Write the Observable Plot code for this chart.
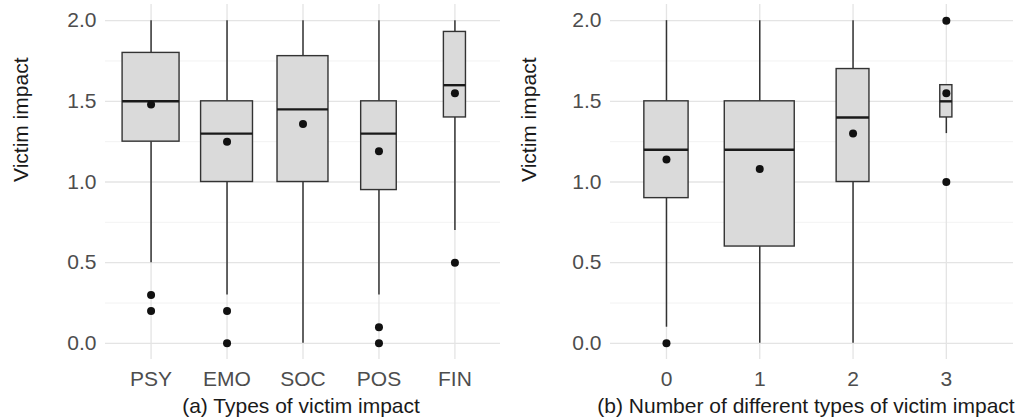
<!DOCTYPE html>
<html><head><meta charset="utf-8">
<script src="https://cdn.jsdelivr.net/npm/d3@7"></script>
<script src="https://cdn.jsdelivr.net/npm/@observablehq/plot@0.6"></script>
<style>
body{margin:0;background:#fff;}
#wrap{display:flex;width:1017px;height:419px;overflow:hidden;}
#wrap svg{overflow:visible;flex:none;}
</style></head><body><div id="wrap"></div>
<script>
// Panel (a): types of victim impact
const categoriesA = ["PSY", "EMO", "SOC", "POS", "FIN"];
const whiskerLowA = [0.5, 0.3, 0.0, 0.3, 0.7];
const q1A = [1.25, 1.0, 1.0, 0.95, 1.4];
const medianA = [1.5, 1.3, 1.45, 1.3, 1.6];
const q3A = [1.8, 1.5, 1.78, 1.5, 1.93];
const whiskerHighA = [2.0, 2.0, 2.0, 2.0, 2.0];
const meanA = [1.48, 1.25, 1.36, 1.19, 1.55];
const countA = [100, 83, 80, 39, 15];
const outlierCatA = ["PSY", "PSY", "EMO", "EMO", "POS", "POS", "FIN"];
const outlierValA = [0.3, 0.2, 0.2, 0.0, 0.1, 0.0, 0.5];
const titleA = "(a) Types of victim impact";

// Panel (b): number of different types of victim impact
const categoriesB = ["0", "1", "2", "3"];
const whiskerLowB = [0.1, 0.0, 0.0, 1.3];
const q1B = [0.9, 0.6, 1.0, 1.4];
const medianB = [1.2, 1.2, 1.4, 1.5];
const q3B = [1.5, 1.5, 1.7, 1.6];
const whiskerHighB = [2.0, 2.0, 2.0, 1.6];
const meanB = [1.14, 1.08, 1.3, 1.55];
const countB = [40, 100, 22, 3];
const outlierCatB = ["0", "3", "3"];
const outlierValB = [0.0, 2.0, 1.0];
const titleB = "(b) Number of different types of victim impact";

const yTicks = [0, 0.5, 1.0, 1.5, 2.0];
const yMinorTicks = [0.25, 0.75, 1.25, 1.75];
const yLabel = "Victim impact";

function panel(o) {
  const {cats, low, q1, med, q3, high, mean, n, outCat, outVal, title,
         width, marginLeft, marginRight, xMax, titleDx} = o;
  const idx = d3.range(cats.length);
  const nMax = d3.max(n);
  const half = i => 0.375 * Math.sqrt(n[i] / nMax);
  const outIdx = d3.range(outCat.length);
  return Plot.plot({
    width, height: 419, marginLeft, marginRight, marginTop: 4, marginBottom: 60,
    style: {fontFamily: "'Liberation Sans', Arial, Helvetica, sans-serif", fontSize: "21px", background: "#fff", color: "#1a1a1a"},
    x: {domain: [-0.6, xMax], axis: null},
    y: {domain: [-0.1, 2.1], axis: null},
    marks: [
      Plot.gridY(yMinorTicks, {stroke: "#efefef", strokeOpacity: 1, strokeWidth: 0.8}),
      Plot.gridY(yTicks, {stroke: "#e4e4e4", strokeOpacity: 1, strokeWidth: 1.3}),
      Plot.gridX(idx, {stroke: "#e4e4e4", strokeOpacity: 1, strokeWidth: 1.3}),
      Plot.axisY(yTicks, {tickFormat: d => d.toFixed(1), tickSize: 0, tickPadding: 9, label: null, fill: "#4d4d4d"}),
      Plot.axisX(idx, {tickFormat: i => cats[i], tickSize: 0, tickPadding: 12, label: null, fill: "#4d4d4d"}),
      Plot.ruleX(idx, {x: i => i, y1: i => q3[i], y2: i => high[i], stroke: "#333", strokeWidth: 1.5}),
      Plot.ruleX(idx, {x: i => i, y1: i => low[i], y2: i => q1[i], stroke: "#333", strokeWidth: 1.5}),
      Plot.rect(idx, {x1: i => i - half(i), x2: i => i + half(i), y1: i => q1[i], y2: i => q3[i],
                      fill: "#dadada", stroke: "#333", strokeWidth: 1.4}),
      Plot.ruleY(idx, {y: i => med[i], x1: i => i - half(i), x2: i => i + half(i), stroke: "#1a1a1a", strokeWidth: 2.4}),
      Plot.dot(idx, {x: i => i, y: i => mean[i], r: 4, fill: "#111", stroke: null}),
      Plot.dot(outIdx, {x: j => cats.indexOf(outCat[j]), y: j => outVal[j], r: 4, fill: "#111", stroke: null}),
      Plot.text([title], {frameAnchor: "bottom", dy: 39, dx: titleDx, lineAnchor: "top", fill: "#1a1a1a", fontSize: 21}),
      Plot.text([yLabel], {frameAnchor: "left", dx: 21 - marginLeft, rotate: -90, lineAnchor: "middle", fill: "#1a1a1a", fontSize: 21})
    ]
  });
}

const wrap = document.getElementById("wrap");
wrap.appendChild(panel({
  cats: categoriesA, low: whiskerLowA, q1: q1A, med: medianA, q3: q3A, high: whiskerHighA,
  mean: meanA, n: countA, outCat: outlierCatA, outVal: outlierValA, title: titleA,
  width: 508, marginLeft: 105, marginRight: 8, xMax: 4.6, titleDx: -2
}));
wrap.appendChild(panel({
  cats: categoriesB, low: whiskerLowB, q1: q1B, med: medianB, q3: q3B, high: whiskerHighB,
  mean: meanB, n: countB, outCat: outlierCatB, outVal: outlierValB, title: titleB,
  width: 509, marginLeft: 102, marginRight: 4, xMax: 3.72, titleDx: -6
}));
</script>
</body></html>
